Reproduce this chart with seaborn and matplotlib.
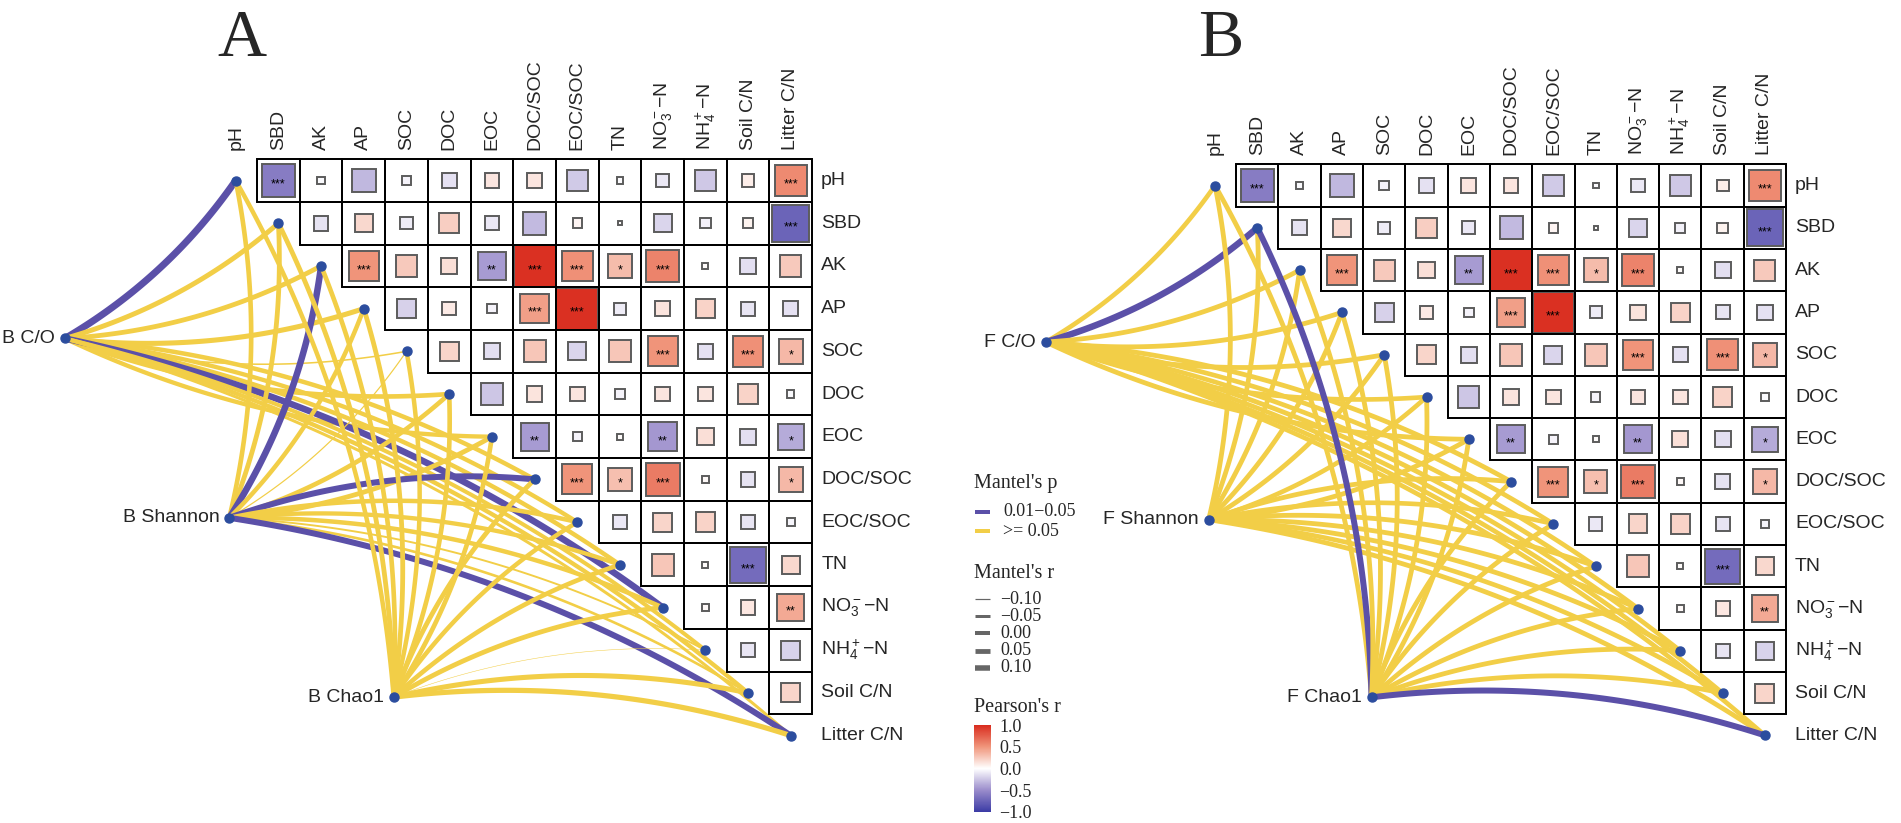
import numpy as np
import matplotlib
matplotlib.use("Agg")
import matplotlib.pyplot as plt
from matplotlib.patches import Rectangle
from matplotlib.cm import ScalarMappable
from matplotlib.colors import Normalize
import seaborn as sns

sns.set_theme(style="white")
plt.rcParams["font.family"] = ["Liberation Sans", "DejaVu Sans"]
plt.rcParams["mathtext.fontset"] = "custom"
plt.rcParams["mathtext.rm"] = "Liberation Sans"
plt.rcParams["mathtext.it"] = "Liberation Sans:italic"
plt.rcParams["mathtext.bf"] = "Liberation Sans:bold"
SERIF = ["Liberation Serif", "DejaVu Serif"]

W, H, DPI = 1901, 823, 100
PX = 72 / DPI          # points per pixel

# ── Data ────────────────────────────────────────────────────────────────────
ENV = ["pH", "SBD", "AK", "AP", "SOC", "DOC", "EOC", "DOC/SOC", "EOC/SOC", "TN",
       "NO$_3^-$\u2212N", "NH$_4^+$\u2212N", "Soil C/N", "Litter C/N"]

# Pearson's r, upper triangle (row i, columns i+1 .. 13)
PEARSON_R = [
    [-0.60, -0.03, -0.31, -0.05, -0.13, 0.12, 0.12, -0.23, -0.02, -0.10, -0.24, 0.08, 0.55],
    [-0.12, 0.18, -0.08, 0.23, -0.10, -0.30, 0.05, 0.01, -0.18, -0.06, 0.06, -0.75],
    [0.50, 0.25, 0.15, -0.43, 0.97, 0.52, 0.32, 0.58, 0.02, -0.14, 0.25],
    [-0.20, 0.10, -0.05, 0.45, 0.97, -0.08, 0.13, 0.21, -0.11, -0.13],
    [0.20, -0.14, 0.27, -0.18, 0.27, 0.50, -0.13, 0.52, 0.33],
    [-0.25, 0.13, 0.12, -0.05, 0.12, 0.12, 0.21, -0.03],
    [-0.43, -0.05, 0.02, -0.45, 0.15, -0.14, -0.36],
    [0.50, 0.30, 0.62, 0.03, -0.12, 0.33],
    [-0.10, 0.20, 0.21, -0.11, -0.04],
    [0.27, 0.02, -0.70, 0.18],
    [0.03, 0.11, 0.40],
    [-0.11, -0.19],
    [0.20],
]
PEARSON_SIG = [
    ["***", "", "", "", "", "", "", "", "", "", "", "", "***"],
    ["", "", "", "", "", "", "", "", "", "", "", "***"],
    ["***", "", "", "**", "***", "***", "*", "***", "", "", ""],
    ["", "", "", "***", "***", "", "", "", "", ""],
    ["", "", "", "", "", "***", "", "***", "*"],
    ["", "", "", "", "", "", "", ""],
    ["**", "", "", "**", "", "", "*"],
    ["***", "*", "***", "", "", "*"],
    ["", "", "", "", ""],
    ["", "", "***", ""],
    ["", "", "**"],
    ["", ""],
    [""],
]

# Mantel tests: p class (0 = 0.01-0.05, 1 = >= 0.05) and Mantel's r, per spec x env
SPEC_A = ["B C/O", "B Shannon", "B Chao1"]
MANTEL_P_A = [
    [0, 1, 1, 1, 1, 1, 1, 1, 1, 1, 0, 1, 1, 1],
    [1, 1, 0, 1, 1, 1, 1, 0, 1, 1, 1, 1, 1, 0],
    [1, 1, 1, 1, 1, 1, 1, 1, 1, 1, 1, 1, 1, 1],
]
MANTEL_R_A = [
    [0.16, 0.06, 0.05, 0.07, -0.09, 0.04, 0.02, 0.03, 0.02, 0.03, 0.14, 0.00, 0.02, -0.05],
    [0.04, 0.05, 0.14, 0.03, -0.10, 0.04, 0.05, 0.12, 0.03, 0.02, 0.03, -0.08, -0.06, 0.12],
    [0.03, 0.05, 0.04, 0.05, 0.03, 0.04, 0.04, 0.05, 0.03, 0.04, 0.05, -0.12, 0.07, 0.08],
]
SPEC_B = ["F C/O", "F Shannon", "F Chao1"]
MANTEL_P_B = [
    [1, 0, 1, 1, 1, 1, 1, 1, 1, 1, 1, 1, 1, 1],
    [1, 1, 1, 1, 1, 1, 1, 1, 1, 1, 1, 1, 1, 1],
    [1, 0, 1, 1, 1, 1, 1, 1, 1, 1, 1, 1, 1, 0],
]
MANTEL_R_B = [
    [0.04, 0.14, 0.05, 0.05, 0.05, 0.04, 0.05, 0.05, 0.04, 0.04, 0.05, 0.04, 0.04, 0.04],
    [0.05, 0.05, 0.05, 0.05, 0.05, 0.04, 0.05, 0.05, 0.04, 0.05, 0.05, 0.05, 0.04, 0.05],
    [0.05, 0.12, 0.05, 0.05, 0.05, 0.05, 0.05, 0.05, 0.05, 0.05, 0.05, 0.05, 0.05, 0.12],
]

P_LABELS = ["0.01\u22120.05", ">= 0.05"]
R_BREAKS = [-0.10, -0.05, 0.00, 0.05, 0.10]
R_LABELS = ["\u22120.10", "\u22120.05", "0.00", "0.05", "0.10"]
CBAR_TICKS = [-1.0, -0.5, 0.0, 0.5, 1.0]
CBAR_LABELS = ["\u22121.0", "\u22120.5", "0.0", "0.5", "1.0"]

# ── Style ───────────────────────────────────────────────────────────────────
LINK_COLORS = ["#5B50A8", "#F2CE47"]
CMAP = sns.blend_palette(["#3B3BA5", "#9A8CCB", "#FFFFFF", "#F0957B", "#D92B1E"], as_cmap=True)
NORM = Normalize(-1, 1)
CURV = 0.11
SPEC_DX = [-4.0, -0.15, 3.7]      # spec node offsets, in cells from the pH node
SPEC_DY = [3.7, 7.9, 12.1]


def r_to_px(r):
    return np.interp(r, [-0.12, -0.10, -0.05, 0.0, 0.05, 0.10, 0.16],
                     [0.5, 1.2, 3.0, 4.0, 4.8, 5.5, 7.0])


def draw_link(ax, p0, p2, side, color, lw):
    p0 = np.asarray(p0, float)
    p2 = np.asarray(p2, float)
    d = p2 - p0
    L = np.hypot(*d)
    n = np.array([-d[1], d[0]]) / L
    ctrl = (p0 + p2) / 2 + side * CURV * L * n
    t = np.linspace(0, 1, 80)[:, None]
    pts = (1 - t) ** 2 * p0 + 2 * (1 - t) * t * ctrl + t ** 2 * p2
    ax.plot(pts[:, 0], pts[:, 1], color=color, lw=lw * PX,
            solid_capstyle="butt", zorder=2)


def draw_panel(ax, ox, oy, c, specs, mantel_p, mantel_r, letter):
    n = len(ENV)
    # heatmap (upper triangle, no diagonal)
    for i in range(n - 1):
        for k, j in enumerate(range(i + 1, n)):
            x, y = ox + j * c, oy + i * c
            ax.add_patch(Rectangle((x - c / 2, y - c / 2), c, c, facecolor="white",
                                   edgecolor="black", lw=1.3, zorder=3))
            r = PEARSON_R[i][k]
            s = min(1.0, np.sqrt(abs(r))) * c
            ax.add_patch(Rectangle((x - s / 2, y - s / 2), s, s, facecolor=CMAP(NORM(r)),
                                   edgecolor="#5c5c5c", lw=1.4, zorder=4))
            if PEARSON_SIG[i][k]:
                ax.text(x, y + 0.1 * c, PEARSON_SIG[i][k], ha="center", va="center",
                        fontsize=9, color="black", zorder=6)
    # grid outline on top
    for i in range(n - 1):
        for j in range(i + 1, n):
            x, y = ox + j * c, oy + i * c
            ax.add_patch(Rectangle((x - c / 2, y - c / 2), c, c, fill=False,
                                   edgecolor="black", lw=1.3, zorder=5))

    for j, lab in enumerate(ENV):
        ax.text(ox + j * c, oy - c / 2 - 9, lab, rotation=90, ha="center", va="bottom",
                fontsize=14)
        ax.text(ox + (n - 0.5) * c + 9, oy + j * c, lab, ha="left", va="center",
                fontsize=14)

    # mantel links
    env_xy = [(ox + j * c, oy + j * c) for j in range(n)]
    for s, name in enumerate(specs):
        sx, sy = ox + SPEC_DX[s] * c, oy + SPEC_DY[s] * c
        for j in range(n):
            side = 1 if j <= (n - 1) / 2 else -1
            draw_link(ax, (sx, sy), env_xy[j], side,
                      LINK_COLORS[mantel_p[s][j]], r_to_px(mantel_r[s][j]))
        ax.plot(sx, sy, "o", ms=6.5, color="#2C4D9E", zorder=7)
        ax.text(sx - 10, sy, name, ha="right", va="center", fontsize=14)
    for (ex, ey) in env_xy:
        ax.plot(ex, ey, "o", ms=6.5, color="#2C4D9E", zorder=7)

    ax.text(ox + 6, 56, letter, ha="center", va="baseline", fontsize=49,
            family=SERIF)


fig = plt.figure(figsize=(W / DPI, H / DPI), dpi=DPI)
ax = fig.add_axes([0, 0, 1, 1])
ax.set_xlim(0, W)
ax.set_ylim(H, 0)
ax.axis("off")

draw_panel(ax, 235.7, 180.5, 42.7, SPEC_A, MANTEL_P_A, MANTEL_R_A, "A")
draw_panel(ax, 1215.0, 185.5, 42.3, SPEC_B, MANTEL_P_B, MANTEL_R_B, "B")

# ── Legend ──────────────────────────────────────────────────────────────────
lx = 974
ax.text(lx, 483, "Mantel's p", ha="left", va="center", fontsize=14.5, family=SERIF)
for k, (lab, col) in enumerate(zip(P_LABELS, LINK_COLORS)):
    y = 512 + k * 19
    ax.plot([lx + 1, lx + 16], [y, y], color=col, lw=4 * PX, solid_capstyle="butt")
    ax.text(lx + 29, y, lab, ha="left", va="center", fontsize=13, family=SERIF)

ax.text(lx, 573, "Mantel's r", ha="left", va="center", fontsize=14.5, family=SERIF)
for k, (rv, lab) in enumerate(zip(R_BREAKS, R_LABELS)):
    y = 599 + k * 17.2
    ax.plot([lx + 1, lx + 16], [y, y], color="#666666", lw=r_to_px(rv) * PX,
            solid_capstyle="butt")
    ax.text(lx + 26, y, lab, ha="left", va="center", fontsize=13, family=SERIF)

ax.text(lx, 707, "Pearson's r", ha="left", va="center", fontsize=14.5, family=SERIF)
cax = fig.add_axes([lx / W, 1 - 812 / H, 17 / W, 87 / H])
cb = fig.colorbar(ScalarMappable(norm=NORM, cmap=CMAP), cax=cax, ticks=CBAR_TICKS)
cb.outline.set_visible(False)
cb.ax.set_yticklabels(CBAR_LABELS, family=SERIF, fontsize=13)
cb.ax.tick_params(length=4, width=1, color="white", direction="in", pad=6)

fig.savefig("out.png", dpi=DPI)
